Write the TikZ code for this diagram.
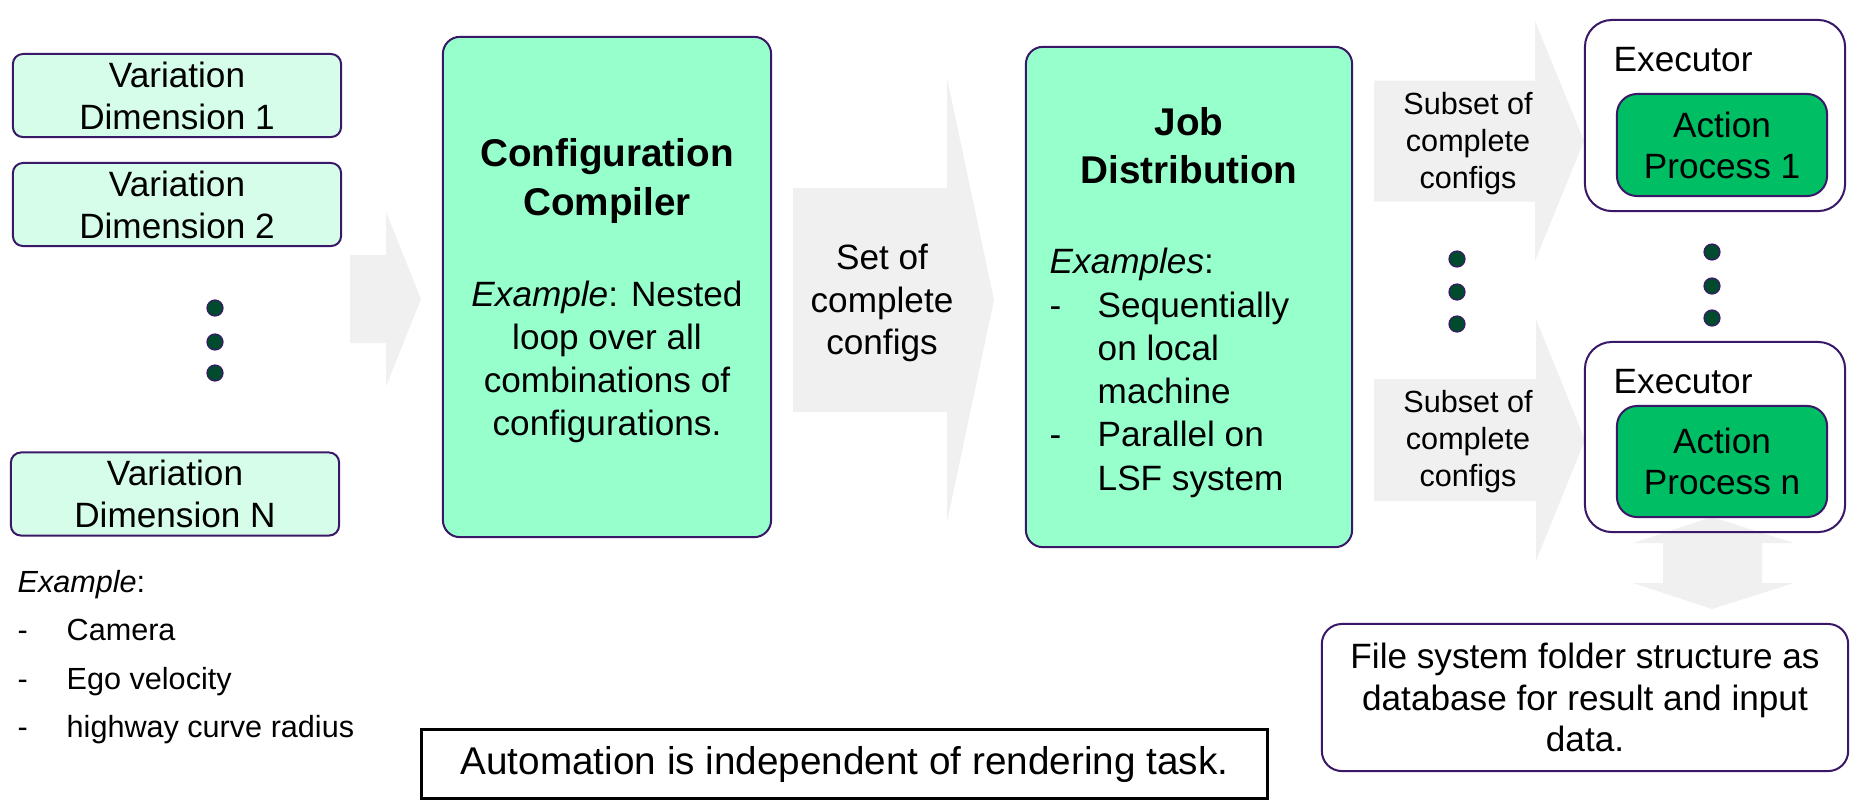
\documentclass[tikz,border=0pt]{standalone}
\usepackage{fontspec}
\setmainfont{Liberation Sans}
\usetikzlibrary{positioning,calc}
\definecolor{mint}{RGB}{213,253,233}
\definecolor{aqua}{RGB}{150,255,204}
\definecolor{actgreen}{RGB}{0,190,100}
\definecolor{frame}{RGB}{58,24,104}
\definecolor{dotgreen}{RGB}{0,75,45}
\definecolor{arrowgrey}{RGB}{240,240,240}
\newcommand{\itm}[2][0.48cm]{\makebox[#1][l]{-}#2}
\newcommand{\skipin}[1][0.48cm]{\hspace*{#1}}

\tikzset{
  varbox/.style={draw=frame, fill=mint, line width=0.02cm, rounded corners=0.1cm,
    minimum width=3.28cm, minimum height=0.83cm, inner sep=0pt, align=center,
    font=\fontsize{10}{11.9}\selectfont},
  bigbox/.style={draw=frame, fill=aqua, line width=0.02cm, rounded corners=0.17cm,
    minimum height=5cm, inner sep=0pt},
  execbox/.style={draw=frame, line width=0.02cm, rounded corners=0.27cm,
    minimum width=2.6cm, minimum height=1.91cm, inner sep=0pt},
  actbox/.style={draw=frame, fill=actgreen, line width=0.02cm, rounded corners=0.2cm,
    minimum width=2.1cm, inner sep=0pt, align=center,
    font=\fontsize{10}{11.7}\selectfont},
  bulletdot/.style={circle, draw=frame, fill=dotgreen, line width=0.012cm,
    minimum size=0.16cm, inner sep=0pt},
  titletxt/.style={align=center, inner sep=0pt, font=\fontsize{11}{13.7}\selectfont\bfseries},
  bodytxt/.style={align=center, inner sep=0pt, font=\fontsize{10}{12.3}\selectfont},
  subtxt/.style={align=center, inner sep=0pt, font=\fontsize{8.7}{10.5}\selectfont},
  pics/blockarrow/.style n args={4}{code={
    \fill[arrowgrey] (0,-#3) -- (#1-#2,-#3) -- (#1-#2,-#4) -- (#1,0)
      -- (#1-#2,#4) -- (#1-#2,#3) -- (0,#3) -- cycle;}}
}

\begin{document}
\begin{tikzpicture}[x=0.01cm,y=-0.01cm]
  \useasboundingbox (0,0) rectangle (1863,802);
  % grey arrows
  \pic at (350,299) {blockarrow={71}{35}{44}{87.5}};
  \pic at (793,300) {blockarrow={201}{47}{112}{222}};
  \pic at (1374,141) {blockarrow={210}{49}{60.5}{120}};
  \pic at (1374,440) {blockarrow={211}{49}{61}{121}};
  \fill[arrowgrey] (1712,517) -- (1794,543) -- (1762,543) -- (1762,583) -- (1794,583)
    -- (1712,609) -- (1633,583) -- (1663,583) -- (1663,543) -- (1633,543) -- cycle;

  % variation dimensions
  \node[varbox] (dim1) at (177,95.5) {Variation\\Dimension 1};
  \node[varbox] (dim2) at (177,204.5) {Variation\\Dimension 2};
  \node[varbox] (dimN) at (175,494) {Variation\\Dimension N};
  \foreach \y [count=\i] in {308,342,373}
    \node[bulletdot] (ld\i) at (215,\y) {};
  \node[align=left, anchor=west, inner sep=0pt, font=\fontsize{8.7}{13.8}\selectfont]
    (varex) at (17,657) {\textit{Example}:\\\itm[0.49cm]{Camera}\\\itm[0.49cm]{Ego velocity}\\\itm[0.49cm]{highway curve radius}};

  % configuration compiler
  \node[bigbox, minimum width=3.28cm] (cc) at (607,287) {};
  \node[titletxt] (cctitle) at (607,181) {Configuration\\Compiler};
  \node[bodytxt] (ccbody) at (607,362) {\textit{Example}: Nested\\loop over all\\combinations of\\configurations.};
  \node[bodytxt, font=\fontsize{10}{12}\selectfont] (setcfg) at (882,303) {Set of\\complete\\configs};

  % job distribution
  \node[bigbox, minimum width=3.26cm] (jd) at (1189,297) {};
  \node[titletxt] (jdtitle) at (1189,146) {Job\\Distribution};
  \node[bodytxt, align=left, anchor=west] (jdbody) at (1049,373)
    {\textit{Examples}:\\\itm{Sequentially}\\\skipin on local\\\skipin machine\\\itm{Parallel on}\\\skipin LSF system};
  \node[subtxt] (sub1) at (1468,143.5) {Subset of\\complete\\configs};
  \node[subtxt] (subn) at (1468,442) {Subset of\\complete\\configs};
  \foreach \y [count=\i] in {259,292,324}
    \node[bulletdot] (md\i) at (1457,\y) {};

  % executors
  \node[execbox] (ex1) at (1715,115.5) {};
  \node[anchor=base west, inner sep=0pt, font=\fontsize{10}{12}\selectfont] (ex1lbl) at (1613,71) {Executor};
  \node[actbox, minimum height=1.02cm] (ac1) at (1722,145) {Action\\Process 1};
  \foreach \y [count=\i] in {252,286,318}
    \node[bulletdot] (rd\i) at (1712,\y) {};
  \node[execbox, minimum height=1.9cm] (exn) at (1715,437) {};
  \node[anchor=base west, inner sep=0pt, font=\fontsize{10}{12}\selectfont] (exnlbl) at (1613,393) {Executor};
  \node[actbox, minimum height=1.11cm] (acn) at (1722,461.5) {Action\\Process n};

  % storage and note
  \node[draw=frame, line width=0.02cm, rounded corners=0.2cm, minimum width=5.26cm,
    minimum height=1.47cm, inner sep=0pt, align=center, font=\fontsize{10}{11.8}\selectfont]
    (fs) at (1585,697.5) {File system folder structure as\\database for result and input\\data.};
  \node[draw=black, line width=0.03cm, minimum width=8.46cm, minimum height=0.68cm,
    inner sep=0pt, font=\fontsize{11}{13}\selectfont] (auto) at (844.5,764)
    {Automation is independent of rendering task.};
\end{tikzpicture}
\end{document}
